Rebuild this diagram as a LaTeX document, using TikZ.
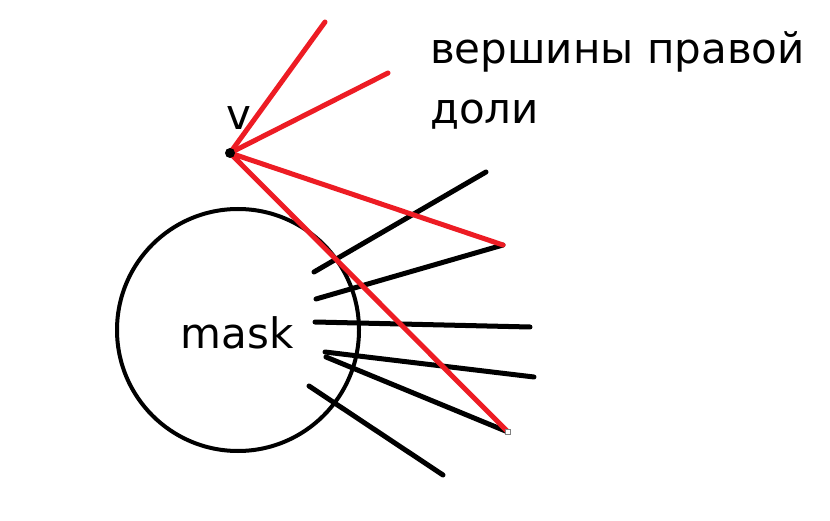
\documentclass[tikz,border=0pt]{standalone}
\usepackage{fontspec}
\setmainfont{DejaVu Sans}
\definecolor{paintred}{RGB}{237,28,36}
\tikzset{
  redline/.style={paintred,line width=5pt,line cap=round},
  blackline/.style={black,line width=5pt,line cap=round},
  label/.style={font=\fontsize{42}{60}\selectfont,inner sep=0pt}
}
\begin{document}
\begin{tikzpicture}[x=1pt,y=-1pt]
\useasboundingbox (0,0) rectangle (830,521);
\coordinate (v) at (230,153);
\coordinate (r1) at (325,22);
\coordinate (r2) at (388,73);
\coordinate (r3) at (503,245);
\coordinate (r4) at (508,432);
\node[draw,circle,line width=4pt,minimum size=242pt,inner sep=0pt] (mask) at (238,330) {};
\node[label] (masktext) at (237,333) {mask};
\node[label,anchor=base] (vtext) at (239,130) {v};
\node[label,anchor=base west,align=left] (part) at (430,124) {вершины правой\\доли};
% black edges from the mask
\coordinate (b1) at (314,272); \coordinate (e1) at (486,172);
\coordinate (b2) at (316,299);
\coordinate (b3) at (315,322); \coordinate (e3) at (530,327);
\coordinate (b4) at (325,352); \coordinate (e4) at (534,377);
\coordinate (b5) at (326,357);
\coordinate (b6) at (309,386); \coordinate (e6) at (443,475);
\draw[blackline] (b1) -- (e1);
\draw[blackline] (b2) -- (r3);
\draw[blackline] (b3) -- (e3);
\draw[blackline] (b4) -- (e4);
\draw[blackline] (b5) -- (r4);
\draw[blackline] (b6) -- (e6);
% red edges from v
\foreach \t in {r1,r2,r3,r4}
  \draw[redline] (v) -- (\t);
\fill (v) circle (5pt);
\node[draw=gray,fill=white,line width=0.8pt,minimum size=5pt,inner sep=0pt] (mark) at (r4) {};
\end{tikzpicture}
\end{document}
